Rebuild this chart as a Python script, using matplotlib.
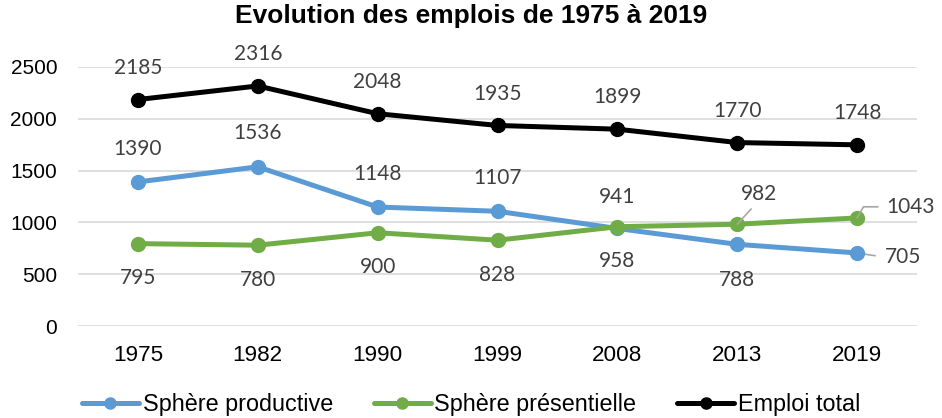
import matplotlib
matplotlib.use("Agg")
import matplotlib.pyplot as plt

years = ["1975", "1982", "1990", "1999", "2008", "2013", "2019"]
productive = [1390, 1536, 1148, 1107, 941, 788, 705]
presentielle = [795, 780, 900, 828, 958, 982, 1043]
total = [2185, 2316, 2048, 1935, 1899, 1770, 1748]

title = "Evolution des emplois de 1975 à 2019"
names = ["Sphère productive", "Sphère présentielle", "Emploi total"]
colors = ["#5B9BD5", "#70AD47", "#000000"]

fig = plt.figure(figsize=(9.42, 4.18), dpi=100)
ax = fig.add_axes([0.0828, 0.220, 0.8907, 0.620])

x = list(range(len(years)))
series = [productive, presentielle, total]
for vals, name, c in zip(series, names, colors):
    ax.plot(x, vals, color=c, lw=3.6, marker="o", ms=10, label=name,
            solid_capstyle="round", zorder=3)

ax.set_xlim(-0.5, len(years) - 0.5)
ax.set_ylim(0, 2500)
ax.set_yticks(range(0, 2501, 500))
ax.set_xticks(x)
ax.set_xticklabels(years)
ax.tick_params(axis="both", length=0, colors="black")
ax.tick_params(axis="y", pad=15, labelsize=15)
ax.tick_params(axis="x", pad=14, labelsize=16.2)
for lab in ax.get_xticklabels() + ax.get_yticklabels():
    lab.set_family("Liberation Sans")
ax.grid(axis="y", color="#D9D9D9", lw=1.2, zorder=0)
for s in ax.spines.values():
    s.set_visible(False)

lab_font = dict(fontsize=15, color="#404040", family="Lato", ha="center", va="center")
lead = dict(arrowstyle="-", color="#A6A6A6", lw=1.2, shrinkA=0, shrinkB=0)
last = len(years) - 1

for i, v in enumerate(total):
    ax.annotate(str(v), (i, v), xytext=(0, 23), textcoords="offset points", **lab_font)

prod_off = [(0, 24), (0, 24), (0, 24), (0, 24), (0, 23), (0, -26), (20, -3)]
pres_off = [(0, -25), (0, -25), (0, -25), (0, -25), (0, -25), (16, 22), (21, 8)]

for i, v in enumerate(productive):
    dx, dy = prod_off[i]
    ha = "left" if i == last else "center"
    ax.annotate(str(v), (i, v), xytext=(dx, dy), textcoords="offset points",
                **{**lab_font, "ha": ha})
ax.annotate("", (last, productive[last]), xytext=(13, -2), textcoords="offset points",
            arrowprops=lead, zorder=2)

for i, v in enumerate(presentielle):
    dx, dy = pres_off[i]
    ha = "left" if i == last else "center"
    ax.annotate(str(v), (i, v), xytext=(dx, dy), textcoords="offset points",
                **{**lab_font, "ha": ha})
ax.annotate("", (5, presentielle[5]), xytext=(10, 11), textcoords="offset points",
            arrowprops=lead, zorder=4)
ax.annotate("", (last, presentielle[last]), xytext=(15, 8), textcoords="offset points",
            arrowprops={**lead, "connectionstyle": "angle,angleA=0,angleB=60,rad=0"},
            zorder=4)

fig.suptitle(title, x=0.5, y=0.99, fontsize=19, fontweight="bold",
             family="Liberation Sans", va="top")

leg = fig.legend(loc="lower center", bbox_to_anchor=(0.5, -0.045), ncol=3, frameon=False,
                 prop={"family": "Liberation Sans", "size": 16.8}, handlelength=2.45,
                 handletextpad=0.15, columnspacing=1.75, markerscale=0.8)

fig.savefig("out.png", dpi=100)
